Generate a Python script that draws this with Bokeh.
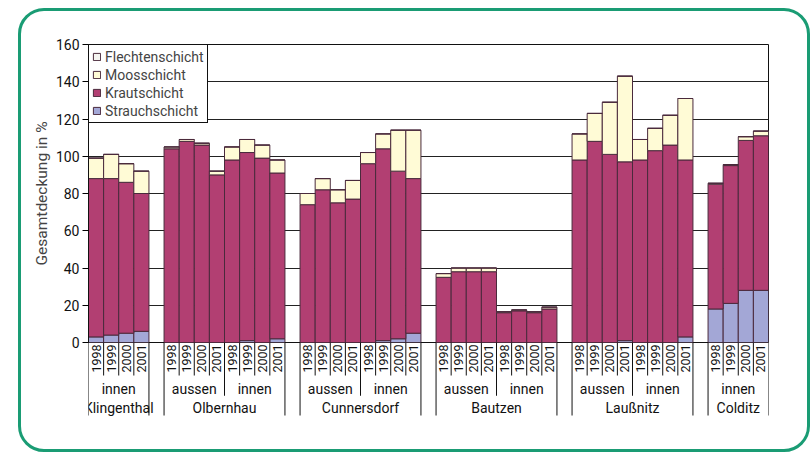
import math
from bokeh.plotting import figure
from bokeh.models import FactorRange, Range1d, ColumnDataSource, FixedTicker, Legend, LegendItem, Column
from bokeh.core.properties import value
from bokeh.embed import file_html
from bokeh.resources import INLINE

# ---------------- data ----------------
sites = ["Klingenthal", "Olbernhau", "Cunnersdorf", "Bautzen", "Laußnitz", "Colditz"]
site_positions = [["innen"], ["aussen", "innen"], ["aussen", "innen"],
                  ["aussen", "innen"], ["aussen", "innen"], ["innen"]]
years = ["1998", "1999", "2000", "2001"]
layers = ["Strauchschicht", "Krautschicht", "Moosschicht", "Flechtenschicht"]

strauch = [3, 4, 5, 6,
           0, 0, 0, 0, 0, 1, 0, 2,
           0, 0, 0, 0, 0, 1, 2, 5,
           0, 0, 0, 0, 0, 0, 0, 0,
           0, 0, 0, 1, 0, 0, 0, 3,
           18, 21, 28, 28]
kraut = [85, 84, 81, 74,
         104, 108, 106, 90, 98, 101, 99, 89,
         74, 82, 75, 77, 96, 103, 90, 83,
         35, 38, 38, 38, 16, 17, 16, 18,
         98, 108, 101, 96, 98, 103, 106, 95,
         67, 74, 80.5, 83]
moos = [11, 13, 10, 12,
        1, 1, 1, 2, 7, 7, 7, 7,
        6, 6, 7, 10, 6, 8, 22, 26,
        2, 2, 2, 2, 0.5, 0.5, 0.5, 1,
        14, 15, 28, 46, 11, 12, 16, 33,
        0.5, 0.5, 2, 2.5]
flechten = [0] * 40

FONT = "Roboto"

factors = [(s, pos, y) for s, plist in zip(sites, site_positions) for pos in plist for y in years]

x_range = FactorRange(*factors, group_padding=1.0, subgroup_padding=0.0,
                      factor_padding=0.0, range_padding=0)

W, H1, H2, OV = 786, 331, 107, 9
p1 = figure(x_range=x_range, y_range=Range1d(0, 160), width=W, height=H1 + OV,
            output_backend="svg", toolbar_location=None,
            min_border_left=67, min_border_right=39, min_border_top=33, min_border_bottom=OV)
p1.border_fill_color = None
p1.xaxis.visible = False
p1.xgrid.visible = False
p1.ygrid.ticker = FixedTicker(ticks=[20, 40, 60, 80, 100, 120, 140, 160])
p1.ygrid.grid_line_color = "#222222"
p1.outline_line_color = "#111111"
p1.outline_line_alpha = 1

yax = p1.yaxis[0]
yax.ticker = FixedTicker(ticks=list(range(0, 161, 20)))
yax.axis_label = "Gesamtdeckung in %"
yax.axis_label_text_font = FONT
yax.axis_label_text_font_style = "normal"
yax.axis_label_text_font_size = "15.5px"
yax.axis_label_standoff = 2
yax.major_label_text_font = FONT
yax.major_label_text_font_size = "14px"
yax.major_label_text_color = "#111111"
yax.major_tick_out = 6
yax.major_tick_in = 0
yax.minor_tick_line_color = None
yax.major_label_standoff = 3
yax.axis_line_color = "#111111"

src = ColumnDataSource(dict(x=factors, Strauchschicht=strauch, Krautschicht=kraut,
                            Moosschicht=moos, Flechtenschicht=flechten))
colors = ["#a3a7d6", "#b23f72", "#fffbd6", "#f4f4f0"]
rs = p1.vbar_stack(layers, x="x", width=1.0, source=src, color=colors,
                   line_color="#4a2a3c", line_width=1)

legend = Legend(items=[LegendItem(label=lab, renderers=[r]) for lab, r in
                       reversed(list(zip(layers, rs)))],
                location="top_left")
legend.margin = 0
legend.padding = 3
legend.spacing = 1
legend.label_height = 17
legend.glyph_height = 9
legend.glyph_width = 9
legend.label_standoff = 4
legend.label_text_font = FONT
legend.label_text_font_size = "14px"
legend.border_line_color = "#111111"
legend.border_line_alpha = 1
legend.background_fill_alpha = 1
p1.add_layout(legend)

# ---------------- label panel ----------------
p2 = figure(x_range=x_range, y_range=Range1d(H2, 0), width=W, height=H2,
            output_backend="svg", toolbar_location=None,
            min_border_left=67, min_border_right=39, min_border_top=0, min_border_bottom=0,
            margin=(-OV, 0, 0, 0))
p2.border_fill_color = None
p2.background_fill_color = None
p2.axis.visible = False
p2.grid.visible = False
p2.outline_line_color = None

ysrc = ColumnDataSource(dict(x=factors, t=[f[2] for f in factors]))
p2.text(x="x", y=2, text="t", source=ysrc, angle=math.pi / 2, text_align="right",
        text_baseline="middle", text_font=value(FONT), text_font_size="12.5px",
        text_color="#111111")

pos_f = [(s, pos) for s, plist in zip(sites, site_positions) for pos in plist]
psrc = ColumnDataSource(dict(x=pos_f, t=[f[1] for f in pos_f]))
p2.text(x="x", y=46, text="t", source=psrc, text_align="center", text_baseline="middle",
        text_font=value(FONT), text_font_size="14px", text_color="#111111")

ssrc = ColumnDataSource(dict(x=sites, t=sites))
p2.text(x="x", y=65, text="t", source=ssrc, text_align="center", text_baseline="middle",
        text_font=value(FONT), text_font_size="14px", text_color="#111111")

x0s, y1s = [], []
for s, plist in zip(sites, site_positions):
    for i, pos in enumerate(plist):
        for j, y in enumerate(years):
            length = 33
            if j == 0:
                length = 73 if i == 0 else 53
            x0s.append((s, pos, y, -0.5))
            y1s.append(length)
        x0s.append((s, pos, years[-1], 0.5))
        y1s.append(73 if i == len(plist) - 1 else 53)
lsrc = ColumnDataSource(dict(x0=x0s, y1=y1s))
p2.segment(x0="x0", y0=0, x1="x0", y1="y1", source=lsrc, line_color="#111111", line_width=1)

layout = Column(children=[p1, p2], spacing=0, width=792, height=444,
                margin=(8, 0, 0, 18),
                styles={"border": "3px solid #1a9c74", "border-radius": "26px",
                        "box-sizing": "border-box"})

open("out.html", "w").write(file_html(layout, INLINE))
